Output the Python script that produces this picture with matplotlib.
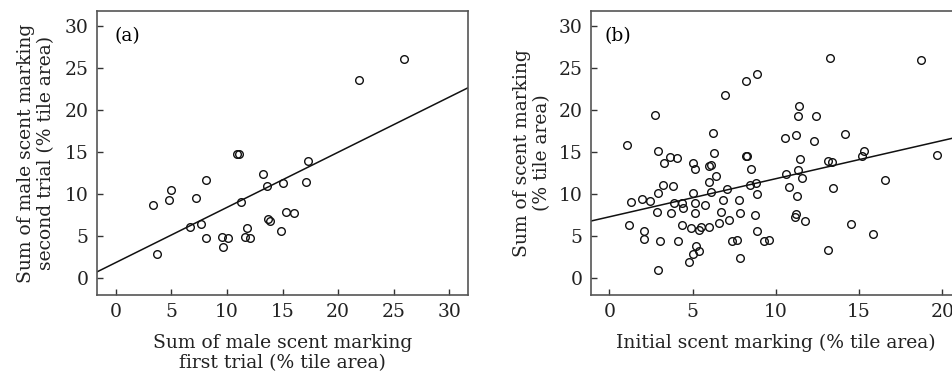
import numpy as np
import matplotlib
matplotlib.use("Agg")
import matplotlib.pyplot as plt

plt.rcParams['font.family'] = ['DejaVu Serif']

# (a) first vs second trial
a_first = [3.32, 3.71, 4.76, 4.96, 6.64, 7.24, 7.63, 8.1, 8.1, 9.54,
           9.66, 10.08, 10.86, 11.1, 11.3, 11.6, 11.8, 12.05, 13.2, 13.6,
           13.73, 13.88, 14.84, 15.08, 15.32, 16.03, 17.08, 17.29, 21.87, 25.97]
a_second = [8.64, 2.82, 9.27, 10.5, 6.03, 9.55, 6.38, 11.65, 4.8, 4.87,
            3.65, 4.72, 14.78, 14.7, 9.07, 4.87, 5.98, 4.76, 12.37, 10.94,
            6.98, 6.78, 5.63, 11.33, 7.81, 7.77, 11.41, 13.9, 23.5, 26.1]
a_fit = (0.655, 1.86)  # slope, intercept

# (b) initial vs sum
b_initial = [1.06, 2.74, 2.90, 3.27, 3.63, 4.08, 5.05, 5.13, 5.99, 6.09,
             6.21, 6.27, 6.39, 6.93, 8.19, 8.23, 8.29, 8.51, 8.85, 13.26,
             18.72, 11.38, 11.32, 12.41, 10.53, 11.21, 12.31, 14.15, 11.47, 13.12,
             13.40, 15.28, 15.18, 19.70, 10.60, 11.32, 11.58, 16.56, 8.43, 8.79,
             10.78, 11.27, 13.42, 7.77, 7.85, 8.85, 8.73, 11.21, 11.17, 11.76,
             8.87, 9.29, 9.57, 14.54, 15.84, 13.12, 7.69, 7.84, 1.30, 1.20,
             1.98, 2.43, 2.08, 2.10, 2.93, 3.21, 2.85, 3.06, 2.90, 3.80,
             3.87, 3.69, 4.37, 4.41, 4.37, 4.11, 5.03, 5.13, 5.13, 4.93,
             4.77, 5.05, 5.23, 5.37, 5.39, 5.53, 5.75, 5.97, 5.99, 6.13,
             6.61, 6.71, 6.85, 7.07, 7.19, 7.37]
b_sum = [15.85, 19.34, 15.14, 13.67, 14.39, 14.30, 13.67, 12.92, 13.32, 13.47,
         17.24, 14.86, 12.13, 21.80, 23.47, 14.54, 14.50, 12.92, 24.26, 26.20,
         25.92, 20.45, 19.22, 19.22, 16.65, 16.97, 16.25, 17.16, 14.15, 13.95,
         13.76, 15.14, 14.50, 14.59, 12.37, 12.84, 11.85, 11.65, 11.10, 11.26,
         10.82, 9.79, 10.66, 9.24, 7.77, 9.95, 7.49, 7.57, 7.25, 6.78,
         5.63, 4.40, 4.52, 6.42, 5.27, 3.29, 4.56, 2.34, 9.00, 6.30,
         9.36, 9.12, 5.55, 4.60, 10.14, 11.02, 7.81, 4.40, 0.95, 10.98,
         8.88, 7.73, 8.92, 8.36, 6.30, 4.36, 10.07, 8.92, 7.73, 5.91,
         1.94, 2.89, 3.77, 3.21, 5.67, 6.10, 8.72, 11.38, 6.03, 10.19,
         6.58, 7.81, 9.24, 10.55, 6.86, 4.44]
b_fit = (0.453, 7.29)

fig = plt.figure(figsize=(9.52, 3.8), dpi=100)
axa = fig.add_axes([0.1019, 0.2237, 0.3897, 0.7474])
axb = fig.add_axes([0.6205, 0.2237, 0.3897, 0.7474])

FS = 13.5

def style(ax, xlim, xticks):
    ax.set_xlim(*xlim)
    ax.set_ylim(-2.0, 31.75)
    ax.set_xticks(xticks)
    ax.set_yticks([0, 5, 10, 15, 20, 25, 30])
    ax.tick_params(direction='in', length=4, width=1, colors='#333333',
                   labelsize=FS, labelcolor='#222222', pad=6)
    for s in ax.spines.values():
        s.set_color('#555555')
        s.set_linewidth(1.2)

def fit_line(ax, fit):
    x0, x1 = ax.get_xlim()
    xs = np.array([x0, x1])
    ax.plot(xs, fit[0] * xs + fit[1], color='#111111', lw=1.1)

style(axa, (-1.7, 31.7), [0, 5, 10, 15, 20, 25, 30])
axa.plot(a_first, a_second, 'o', mfc='none', mec='#111111', ms=5.5, mew=1.0)
fit_line(axa, a_fit)
axa.set_xlim(-1.7, 31.7)
axa.text(0.047, 0.91, '(a)', transform=axa.transAxes, fontsize=FS, va='center')
axa.set_xlabel('Sum of male scent marking\nfirst trial (% tile area)', fontsize=FS,
               color='#222222', labelpad=9, linespacing=1.15)
axa.set_ylabel('Sum of male scent marking\nsecond trial (% tile area)', fontsize=FS,
               color='#222222', labelpad=7, linespacing=1.15)

style(axb, (-1.12, 21.17), [0, 5, 10, 15, 20])
axb.plot(b_initial, b_sum, 'o', mfc='none', mec='#111111', ms=5.5, mew=1.0)
fit_line(axb, b_fit)
axb.set_xlim(-1.12, 21.17)
axb.text(0.0385, 0.91, '(b)', transform=axb.transAxes, fontsize=FS, va='center')
axb.set_xlabel('Initial scent marking (% tile area)', fontsize=FS, color='#222222',
               labelpad=9)
axb.set_ylabel('Sum of scent marking\n(% tile area)', fontsize=FS,
               color='#222222', labelpad=5, linespacing=1.15)

fig.savefig('out.png', dpi=100)
